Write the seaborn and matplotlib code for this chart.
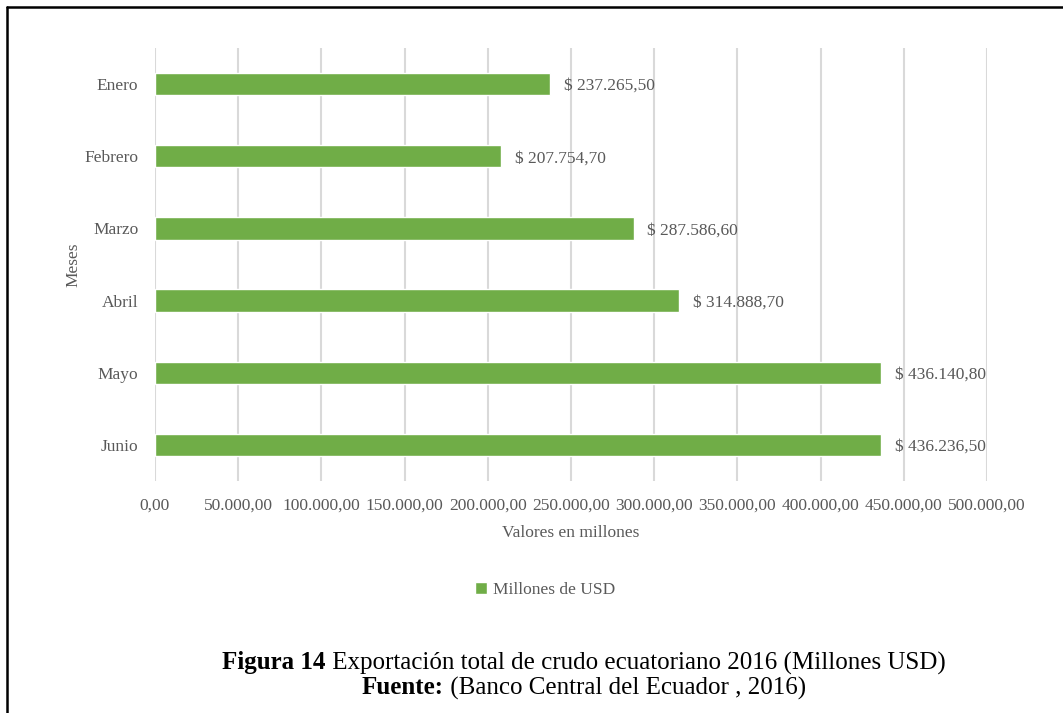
import pandas as pd
import matplotlib.pyplot as plt
import seaborn as sns
from matplotlib.patches import Patch
from matplotlib.lines import Line2D
from matplotlib.ticker import FuncFormatter

meses = ['Enero', 'Febrero', 'Marzo', 'Abril', 'Mayo', 'Junio']
valores = [237265.50, 207754.70, 287586.60, 314888.70, 436140.80, 436236.50]
ticks_x = [0, 50000, 100000, 150000, 200000, 250000, 300000, 350000, 400000, 450000, 500000]

verde = '#70AD47'
gris = '#595959'


def formato_es(v):
    s = f'{v:,.2f}'
    return s.replace(',', 'X').replace('.', ',').replace('X', '.')


sns.set_theme(style='white')
plt.rcParams['font.family'] = ['Liberation Serif', 'DejaVu Serif']

df = pd.DataFrame({'Meses': meses, 'Valores': valores})

fig = plt.figure(figsize=(10.63, 7.13), dpi=100)
ax = fig.add_axes([0.1458, 0.3254, 0.7827, 0.6073])

sns.barplot(data=df, x='Valores', y='Meses', color=verde, saturation=1,
            width=0.31, orient='h', ax=ax, zorder=3)

ax.set_xlim(0, 500000)
ax.set_ylim(5.5, -0.5)
ax.set_xticks(ticks_x)
ax.xaxis.set_major_formatter(FuncFormatter(lambda v, p: formato_es(v)))
ax.grid(axis='x', color='#D9D9D9', linewidth=1.5, zorder=0)
ax.grid(axis='y', visible=False)
for s in ax.spines.values():
    s.set_visible(False)
ax.tick_params(axis='both', length=0, labelsize=12.5, colors=gris)
ax.tick_params(axis='x', pad=12)
ax.tick_params(axis='y', pad=12)

etiquetas = ax.bar_label(ax.containers[0], labels=['$ ' + formato_es(v) for v in valores],
                         padding=10, fontsize=12.5, color=gris)
for t in etiquetas:
    t.set_va('center_baseline')

ax.set_xlabel('Valores en millones', fontsize=12.5, color=gris, labelpad=8.5)
ax.set_ylabel('Meses', fontsize=12.5, color=gris, labelpad=2)

fig.legend(handles=[Patch(facecolor=verde, label='Millones de USD')],
           loc='center', bbox_to_anchor=(545 / 1063, 1 - 590 / 713),
           frameon=False, fontsize=12.5, labelcolor=gris,
           handlelength=0.7, handleheight=0.7, handletextpad=0.3)

# Pie de figura: parte en negrita + parte normal, centrado
fig.canvas.draw()
r = fig.canvas.get_renderer()


def linea(negrita, normal, y, cx=584 / 1063):
    t1 = fig.text(0, y, negrita, fontsize=18, fontweight='bold', color='black', va='center')
    t2 = fig.text(0, y, normal, fontsize=18, color='black', va='center')
    w1 = t1.get_window_extent(r).width / fig.bbox.width
    w2 = t2.get_window_extent(r).width / fig.bbox.width
    x0 = cx - (w1 + w2) / 2
    t1.set_x(x0)
    t2.set_x(x0 + w1)


linea('Figura 14', ' Exportación total de crudo ecuatoriano 2016 (Millones USD)', 1 - 663 / 713)
linea('Fuente:', ' (Banco Central del Ecuador , 2016)', 1 - 688 / 713)

# Marco
fig.add_artist(Line2D([7 / 1063, 1], [1 - 7 / 713, 1 - 7 / 713], color='black', linewidth=1.8))
fig.add_artist(Line2D([7 / 1063, 7 / 1063], [0, 1 - 7 / 713], color='black', linewidth=1.8))

fig.savefig('out.png', dpi=100)
